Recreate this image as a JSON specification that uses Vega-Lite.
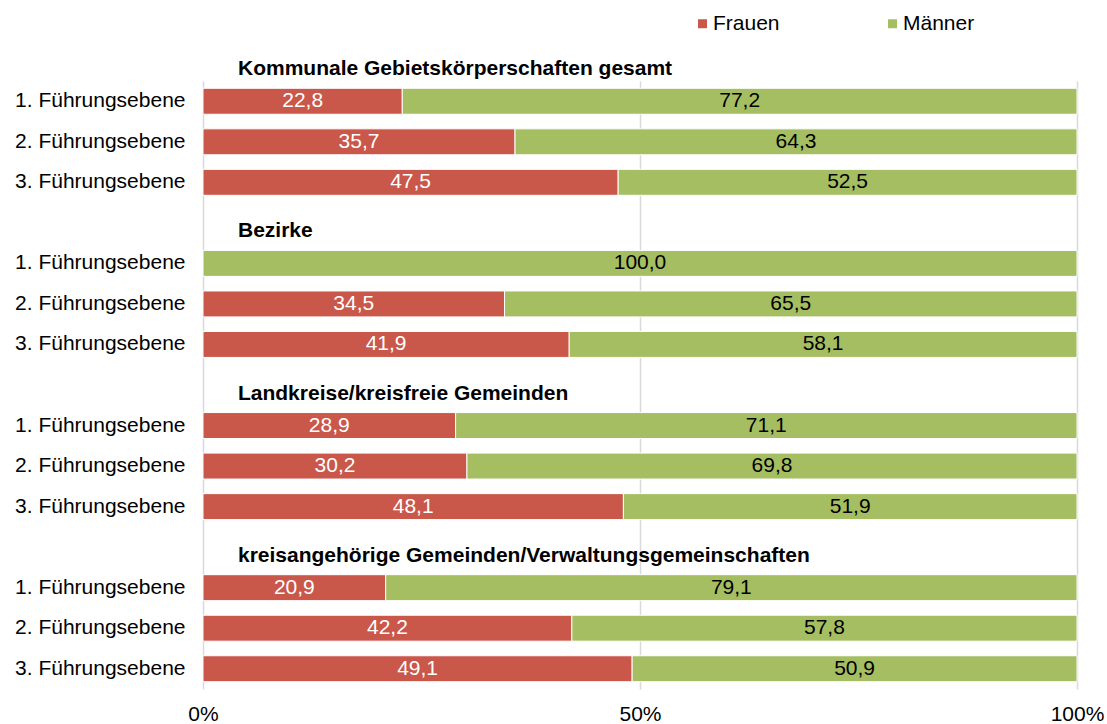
{
  "$schema": "https://vega.github.io/schema/vega-lite/v6.json",
  "autosize": {"type": "none"},
  "padding": {"left": 203, "top": 81, "right": 30, "bottom": 35},
  "width": 874,
  "height": 608,
  "datasets": {
    "bars": [
      {"row": "A1", "sex": "Frauen", "value": 22.8}, {"row": "A1", "sex": "Männer", "value": 77.2},
      {"row": "A2", "sex": "Frauen", "value": 35.7}, {"row": "A2", "sex": "Männer", "value": 64.3},
      {"row": "A3", "sex": "Frauen", "value": 47.5}, {"row": "A3", "sex": "Männer", "value": 52.5},
      {"row": "B1", "sex": "Frauen", "value": 0.0}, {"row": "B1", "sex": "Männer", "value": 100.0},
      {"row": "B2", "sex": "Frauen", "value": 34.5}, {"row": "B2", "sex": "Männer", "value": 65.5},
      {"row": "B3", "sex": "Frauen", "value": 41.9}, {"row": "B3", "sex": "Männer", "value": 58.1},
      {"row": "C1", "sex": "Frauen", "value": 28.9}, {"row": "C1", "sex": "Männer", "value": 71.1},
      {"row": "C2", "sex": "Frauen", "value": 30.2}, {"row": "C2", "sex": "Männer", "value": 69.8},
      {"row": "C3", "sex": "Frauen", "value": 48.1}, {"row": "C3", "sex": "Männer", "value": 51.9},
      {"row": "D1", "sex": "Frauen", "value": 20.9}, {"row": "D1", "sex": "Männer", "value": 79.1},
      {"row": "D2", "sex": "Frauen", "value": 42.2}, {"row": "D2", "sex": "Männer", "value": 57.8},
      {"row": "D3", "sex": "Frauen", "value": 49.1}, {"row": "D3", "sex": "Männer", "value": 50.9}
    ],
    "headers": [
      {"row": "A1", "header": "Kommunale Gebietskörperschaften gesamt"},
      {"row": "B1", "header": "Bezirke"},
      {"row": "C1", "header": "Landkreise/kreisfreie Gemeinden"},
      {"row": "D1", "header": "kreisangehörige Gemeinden/Verwaltungsgemeinschaften"}
    ]
  },
  "encoding": {
    "y": {
      "field": "row",
      "type": "nominal",
      "scale": {
        "domain": ["A1", "A2", "A3", "B0", "B1", "B2", "B3", "C0", "C1", "C2", "C3", "D0", "D1", "D2", "D3"],
        "paddingInner": 0.36,
        "paddingOuter": 0.18
      },
      "axis": {
        "title": null,
        "domain": false,
        "ticks": false,
        "labelPadding": 18,
        "labelExpr": "substring(datum.value, 1) == '0' ? '' : substring(datum.value, 1) + '. Führungsebene'"
      }
    }
  },
  "layer": [
    {
      "data": {"name": "bars"},
      "mark": {"type": "bar", "stroke": "white", "strokeWidth": 1},
      "encoding": {
        "x": {
          "field": "value",
          "type": "quantitative",
          "stack": "zero",
          "scale": {"domain": [0, 100], "nice": false},
          "axis": {
            "title": null,
            "values": [0, 50, 100],
            "labelExpr": "datum.value + '%'",
            "grid": true,
            "gridColor": "#D9D9D9",
            "gridWidth": 1.5,
            "domain": false,
            "ticks": false,
            "labelPadding": 14,
            "labelFlush": false
          }
        },
        "color": {
          "field": "sex",
          "type": "nominal",
          "scale": {"domain": ["Frauen", "Männer"], "range": ["#C9574A", "#A6BE62"]},
          "legend": {
            "title": null,
            "orient": "none",
            "direction": "horizontal",
            "legendX": 489,
            "legendY": -68,
            "padding": 0,
            "symbolType": "square",
            "symbolSize": 81,
            "symbolStrokeWidth": 0,
            "labelOffset": 0,
            "columnPadding": 102
          }
        },
        "order": {"field": "sex"}
      }
    },
    {
      "data": {"name": "bars"},
      "transform": [
        {"filter": "datum.value > 0"},
        {"stack": "value", "groupby": ["row"], "sort": [{"field": "sex", "order": "ascending"}], "as": ["v0", "v1"]},
        {"calculate": "(datum.v0 + datum.v1) / 2", "as": "mid"}
      ],
      "mark": {"type": "text", "fontSize": 21, "baseline": "middle", "align": "center"},
      "encoding": {
        "x": {
          "field": "mid",
          "type": "quantitative",
          "axis": {
            "title": null,
            "values": [0, 50, 100],
            "labelExpr": "datum.value + '%'",
            "grid": true,
            "gridColor": "#D9D9D9",
            "gridWidth": 1.5,
            "domain": false,
            "ticks": false,
            "labelPadding": 14,
            "labelFlush": false
          }
        },
        "text": {"field": "value", "type": "quantitative", "format": ".1f"},
        "color": {"condition": {"test": "datum.sex == 'Frauen'", "value": "white"}, "value": "black"}
      }
    },
    {
      "data": {"name": "headers"},
      "mark": {"type": "text", "fontSize": 21, "fontWeight": "bold", "align": "left", "baseline": "middle", "dy": -32, "color": "black"},
      "encoding": {
        "x": {
          "datum": 4,
          "type": "quantitative",
          "axis": {
            "title": null,
            "values": [0, 50, 100],
            "labelExpr": "datum.value + '%'",
            "grid": true,
            "gridColor": "#D9D9D9",
            "gridWidth": 1.5,
            "domain": false,
            "ticks": false,
            "labelPadding": 14,
            "labelFlush": false
          }
        },
        "text": {"field": "header"}
      }
    }
  ],
  "config": {
    "font": "Liberation Sans",
    "view": {"stroke": null},
    "axis": {"labelFontSize": 21, "labelColor": "black", "labelFont": "Liberation Sans"},
    "legend": {"labelFontSize": 21, "labelColor": "black", "labelFont": "Liberation Sans"},
    "locale": {
      "number": {"decimal": ",", "thousands": ".", "grouping": [3], "currency": ["", " €"]}
    }
  }
}
